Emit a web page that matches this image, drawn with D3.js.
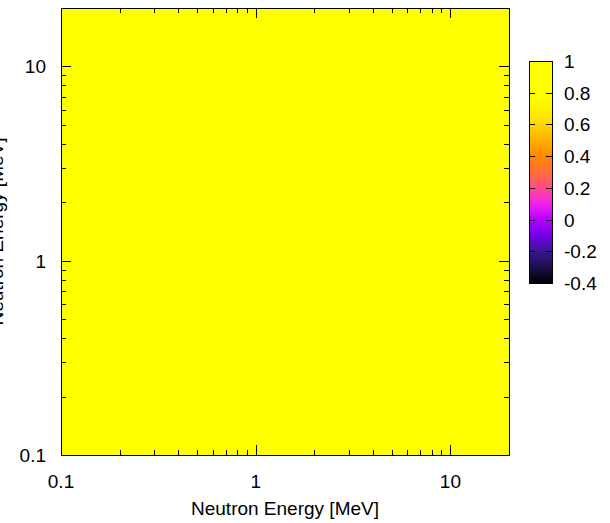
<!DOCTYPE html>
<html><head><meta charset="utf-8">
<script src="https://cdn.jsdelivr.net/npm/d3@7"></script>
<style>body{margin:0;background:#fff}svg{display:block}text{font-family:"Liberation Sans",Arial,sans-serif;fill:#000}</style>
</head><body><svg id="c" width="610" height="523"></svg>
<script>
// Energy bin edges (MeV)
const energyEdges = [0.1, 1, 10, 20];
// Correlation matrix values (rows = y bins, cols = x bins)
const correlation = [
  [1, 1, 1],
  [1, 1, 1],
  [1, 1, 1]
];
const axisTicks = [0.1, 1, 10];
const colorTicks = [-0.4, -0.2, 0, 0.2, 0.4, 0.6, 0.8, 1];
const colorDomain = [-0.4, 1];
// palette stops
const paletteValues = [-0.4, -0.3, -0.2, -0.1, 0, 0.1, 0.2, 0.3, 0.4, 0.5, 0.6, 0.7, 0.8, 1];
const paletteColors = ["#000000", "#1c0f4c", "#3a1690", "#7400ea", "#b800ff", "#f022ee", "#ff4a8a",
  "#ff7035", "#ff8800", "#ffb000", "#ffd800", "#fff200", "#ffff00", "#ffff00"];
const xTitle = "Neutron Energy [MeV]";
const yTitle = "Neutron Energy [MeV]";

const svg = d3.select("#c");
const L = 61, R = 509, T = 8, B = 455;
const x = d3.scaleLog().domain([0.1, 20]).range([L, R]);
const y = d3.scaleLog().domain([0.1, 20]).range([B, T]);
const FS = 19;
const pal = d3.scaleLinear().domain(paletteValues).range(paletteColors).interpolate(d3.interpolateRgb).clamp(true);

// cells
const cells = [];
correlation.forEach((row, i) => row.forEach((v, j) => cells.push({i, j, v})));
svg.append("g").selectAll("rect").data(cells).join("rect")
  .attr("x", d => x(energyEdges[d.j]))
  .attr("y", d => y(energyEdges[d.i+1]))
  .attr("width", d => x(energyEdges[d.j+1]) - x(energyEdges[d.j]))
  .attr("height", d => y(energyEdges[d.i]) - y(energyEdges[d.i+1]))
  .attr("fill", d => pal(d.v))
  .attr("shape-rendering", "crispEdges");

// ticks
const minor = [];
[0.1, 1, 10].forEach(dec => { for (let k = 2; k <= 9; k++) { const v = dec*k; if (v < 20) minor.push(v); } });
const tg = svg.append("g").attr("stroke", "#000").attr("stroke-width", 1);
function xt(vals, len){
  vals.forEach(v => {
    const px = Math.round(x(v)) + 0.5;
    tg.append("line").attr("x1", px).attr("x2", px).attr("y1", B).attr("y2", B - len);
    tg.append("line").attr("x1", px).attr("x2", px).attr("y1", T).attr("y2", T + len);
  });
}
function yt(vals, len){
  vals.forEach(v => {
    const py = Math.round(y(v)) + 0.5;
    tg.append("line").attr("y1", py).attr("y2", py).attr("x1", L).attr("x2", L + len);
    tg.append("line").attr("y1", py).attr("y2", py).attr("x1", R).attr("x2", R - len);
  });
}
xt(axisTicks, 10); xt(minor, 5); yt(axisTicks, 10); yt(minor, 5);

// frame
svg.append("rect").attr("x", L + 0.5).attr("y", T + 0.5).attr("width", R - L).attr("height", B - T)
  .attr("fill", "none").attr("stroke", "#000").attr("stroke-width", 1);

// tick labels
svg.append("g").selectAll("text").data(axisTicks).join("text")
  .attr("x", d => x(d)).attr("y", B + 33).attr("text-anchor", "middle").attr("font-size", FS)
  .text(d => d3.format("~g")(d));
svg.append("g").selectAll("text").data(axisTicks).join("text")
  .attr("x", L - 15).attr("y", d => y(d) + 7).attr("text-anchor", "end").attr("font-size", FS)
  .text(d => d3.format("~g")(d));

// titles
svg.append("text").attr("x", (L + R)/2).attr("y", 515).attr("text-anchor", "middle").attr("font-size", FS).text(xTitle);
svg.append("text").attr("transform", `translate(3,${(T+B)/2}) rotate(-90)`).attr("text-anchor", "middle").attr("font-size", FS).text(yTitle);

// colorbar
const CL = 529, CR = 552, CT = 61, CB = 283;
const cy = d3.scaleLinear().domain(colorDomain).range([CB, CT]);
const defs = svg.append("defs");
const grad = defs.append("linearGradient").attr("id", "cg").attr("x1", 0).attr("y1", 1).attr("x2", 0).attr("y2", 0);
paletteValues.forEach((v, k) => {
  grad.append("stop").attr("offset", ((v - colorDomain[0])/(colorDomain[1]-colorDomain[0])*100) + "%").attr("stop-color", paletteColors[k]);
});
svg.append("rect").attr("x", CL).attr("y", CT).attr("width", CR - CL).attr("height", CB - CT).attr("fill", "url(#cg)");
const cg = svg.append("g").attr("stroke", "#000");
colorTicks.forEach(v => {
  const py = Math.round(cy(v)) + 0.5;
  cg.append("line").attr("x1", CL).attr("x2", CL + 6).attr("y1", py).attr("y2", py);
  cg.append("line").attr("x1", CR).attr("x2", CR - 6).attr("y1", py).attr("y2", py);
});
svg.append("rect").attr("x", CL + 0.5).attr("y", CT + 0.5).attr("width", CR - CL).attr("height", CB - CT)
  .attr("fill", "none").attr("stroke", "#000");
svg.append("g").selectAll("text").data(colorTicks).join("text")
  .attr("x", 564).attr("y", d => cy(d) + 7).attr("font-size", FS)
  .text(d => d3.format("~g")(d).replace("−", "-"));
</script></body></html>
